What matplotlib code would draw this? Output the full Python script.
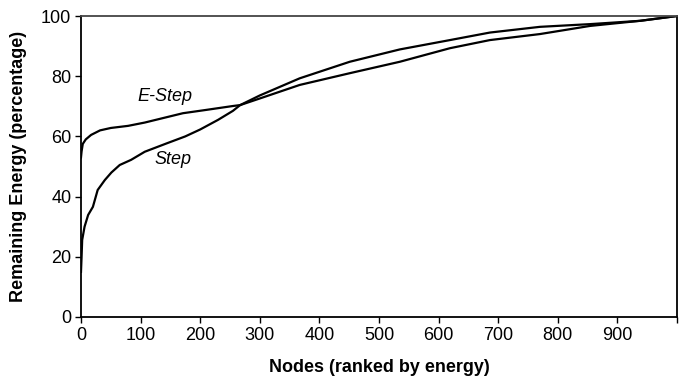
import matplotlib
matplotlib.use("Agg")
import matplotlib.pyplot as plt

plt.rcParams["font.family"] = ["Liberation Sans", "DejaVu Sans"]

# values (node rank, remaining energy %)
estep_x = [0, 1, 3, 8, 17, 32, 50, 79, 107, 140, 171, 210, 255, 267, 300,
           367, 451, 535, 619, 686, 770, 854, 938, 1000]
estep_y = [53, 55, 57.5, 59, 60.5, 62, 62.8, 63.5, 64.6, 66.2, 67.7, 68.8, 70.1, 70.4, 72.6,
           77.1, 81, 84.8, 89.3, 92, 94, 96.7, 98.4, 100]

step_x = [0, 1, 2, 6, 12, 20, 28, 40, 51, 65, 84, 107, 144, 175, 200, 230, 255, 267, 300,
          367, 451, 535, 619, 686, 770, 854, 938, 1000]
step_y = [15, 20, 25.6, 30, 33.9, 36.6, 42.2, 45.5, 48, 50.5, 52.2, 54.9, 57.7, 60, 62.3, 65.5, 68.5, 70.4, 73.6,
          79.3, 84.8, 88.9, 92, 94.5, 96.4, 97.3, 98.4, 100]

x_ticks = list(range(0, 1001, 100))
x_labels = [str(t) for t in x_ticks[:-1]] + [""]
y_ticks = list(range(0, 101, 20))

fig = plt.figure(figsize=(6.84, 3.81), dpi=100)
ax = fig.add_axes([0.1184, 0.168, 0.8714, 0.790])

ax.plot(estep_x, estep_y, color="black", lw=1.6)
ax.plot(step_x, step_y, color="black", lw=1.6)

ax.text(141, 73.4, "E-Step", style="italic", fontsize=13, ha="center", va="center")
ax.text(154, 52.2, "Step", style="italic", fontsize=13, ha="center", va="center")

ax.set_xlim(0, 1000)
ax.set_ylim(0, 100)
ax.set_xticks(x_ticks)
ax.set_xticklabels(x_labels)
ax.set_yticks(y_ticks)
ax.tick_params(direction="out", length=4, width=1, labelsize=13, colors="black", pad=3)
for s in ax.spines.values():
    s.set_linewidth(1.3)
    s.set_color("black")
ax.spines["top"].set_color("#444")

ax.set_xlabel("Nodes (ranked by energy)", fontsize=13, fontweight="bold", labelpad=11)
ax.set_ylabel("Remaining Energy (percentage)", fontsize=13, fontweight="bold", labelpad=10)

fig.savefig("out.png", dpi=100, facecolor="white")
